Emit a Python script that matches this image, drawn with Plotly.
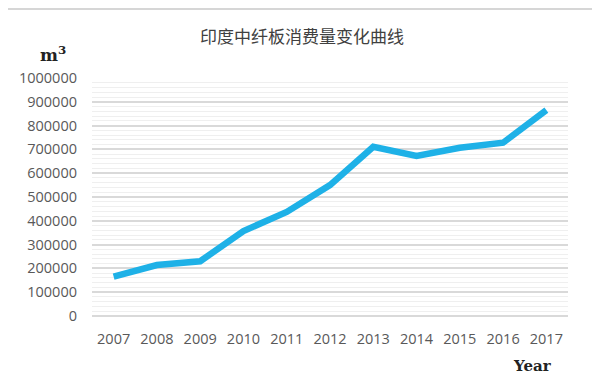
import plotly.graph_objects as go

years = ["2007", "2008", "2009", "2010", "2011", "2012", "2013", "2014", "2015", "2016", "2017"]
consumption = [165000, 214000, 230000, 357000, 437000, 550000, 711000, 673000, 707000, 728000, 865000]
y_ticks = [0, 100000, 200000, 300000, 400000, 500000, 600000, 700000, 800000, 900000, 1000000]

# page is offset by the 8px body margin; coordinates below are page pixels
OFF = 8
W, H = 600 - OFF, 382 - OFF
L, R = 92 - OFF, 600 - 568
T, B = 78 - OFF, 382 - 316
pw = W - L - R
ph = H - T - B


def px(xp):
    return (xp - OFF - L) / pw


def py(yp):
    return (H - (yp - OFF) - B) / ph


fig = go.Figure()
fig.add_trace(go.Scatter(
    x=years, y=consumption, mode="lines",
    line=dict(color="#1EB1E7", width=6.5),
    hoverinfo="x+y",
))

fig.update_layout(
    width=W, height=H,
    margin=dict(l=L, r=R, t=T, b=B),
    paper_bgcolor="white", plot_bgcolor="white",
    showlegend=False,
    title=dict(text="印度中纤板消费量变化曲线", x=(302 - OFF) / W, xanchor="center",
               y=1 - (37 - OFF) / H, yanchor="middle",
               font=dict(family="Noto Sans CJK SC", size=17, color="#404040")),
    xaxis=dict(
        type="category", range=[-0.5, 10.5],
        showgrid=False, showline=False, zeroline=False, ticks="",
        tickfont=dict(family="Open Sans", size=14.5, color="#595959"),
        ticklabelstandoff=12,
    ),
    yaxis=dict(
        range=[0, 1000000], tickvals=y_ticks, ticktext=[str(v) for v in y_ticks],
        showgrid=True, gridcolor="#d9d9d9", gridwidth=1.5,
        zeroline=True, zerolinecolor="#d9d9d9", zerolinewidth=1.5,
        showline=False, ticks="",
        tickfont=dict(family="Open Sans", size=14.5, color="#595959"),
        ticklabelstandoff=14,
        minor=dict(dtick=20000, showgrid=True, gridcolor="#efefef", gridwidth=1),
    ),
    annotations=[
        dict(text="<b>m<sup>3</sup></b>", xref="paper", yref="paper", x=px(53), y=py(67),
             xanchor="center", yanchor="bottom", showarrow=False,
             font=dict(family="DejaVu Serif", size=17, color="#222222")),
        dict(text="<b>Year</b>", xref="paper", yref="paper", x=px(532), y=py(366),
             xanchor="center", yanchor="middle", showarrow=False,
             font=dict(family="DejaVu Serif", size=15, color="#222222")),
    ],
    shapes=[
        dict(type="line", xref="paper", yref="paper", x0=px(3), x1=px(594),
             y0=py(9), y1=py(9), line=dict(color="#d6d6d6", width=2)),
    ],
)

fig.write_html("out.html")
